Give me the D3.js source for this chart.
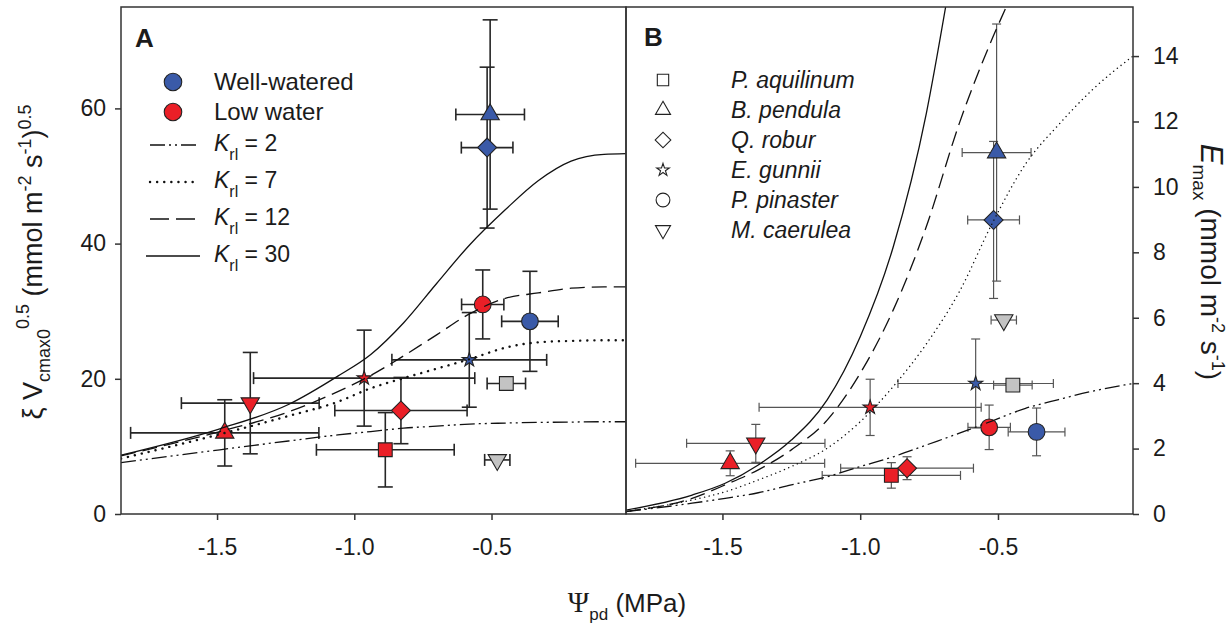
<!DOCTYPE html>
<html>
<head>
<meta charset="utf-8">
<title>Vcmax0 and Emax against predawn water potential</title>
<script src="https://d3js.org/d3.v7.min.js"></script>
<style>
  body { margin: 0; background: #ffffff; }
  #wrapper text { font-family: "Liberation Sans", Arial, Helvetica, sans-serif; fill: #1b1b1b; }
</style>
</head>
<body>
<div id="wrapper"></div>
<script>

// ---- values ----
const species = ["P. aquilinum", "B. pendula", "Q. robur", "E. gunnii", "P. pinaster", "M. caerulea"] ;
const treatments = ["Well-watered", "Low water"] ;
const krlValues = [2, 7, 12, 30] ;

// one entry per plotted point ; "none" = grey marker (single treatment)
const ptSpecies   = ["P. aquilinum", "P. aquilinum", "B. pendula", "B. pendula", "Q. robur", "Q. robur",
                     "E. gunnii", "E. gunnii", "P. pinaster", "P. pinaster", "M. caerulea", "M. caerulea"] ;
const ptTreatment = ["low", "none", "well", "low", "well", "low", "well", "low", "well", "low", "none", "low"] ;
const ptPsi       = [-0.887, -0.446, -0.505, -1.472, -0.516, -0.830, -0.581, -0.964, -0.360, -0.532, -0.479, -1.379] ;
const ptPsiErr    = [0.251, 0.070, 0.125, 0.343, 0.094, 0.241, 0.282, 0.403, 0.103, 0.077, 0.046, 0.251] ;
const ptV         = [9.5, 19.3, 59.1, 12.0, 54.2, 15.3, 22.8, 20.1, 28.5, 31.0, 8.0, 16.4] ;
const ptVErr      = [5.5, 0, 14.0, 4.9, 11.9, 4.9, 7.0, 7.1, 7.4, 5.1, 0, 7.5] ;
const ptE         = [1.18, 3.94, 11.05, 1.55, 8.99, 1.40, 3.99, 3.26, 2.51, 2.65, 5.93, 2.16] ;
const ptEErr      = [0.39, 0, 3.93, 0.38, 2.40, 0.35, 1.36, 0.86, 0.73, 0.68, 0, 0.58] ;

// model curves, panel A
const psiCurveA = [-1.85, -1.49, -1.24, -1.06, -0.94, -0.82, -0.70, -0.58, -0.45, -0.33, -0.21, -0.09, -0.01] ;
const krl2A     = [7.6, 9.5, 10.8, 11.7, 12.2, 12.7, 13.0, 13.3, 13.45, 13.55, 13.6, 13.65, 13.65] ;
const krl7A     = [8.2, 11.8, 14.5, 16.6, 18.6, 20.1, 21.5, 22.9, 24.6, 25.4, 25.6, 25.7, 25.7] ;
const krl12A    = [8.6, 12.2, 15.1, 18.1, 20.5, 23.4, 26.5, 29.6, 31.9, 32.7, 33.4, 33.6, 33.6] ;
const krl30A    = [8.7, 12.6, 16.2, 20.4, 23.6, 28.3, 34.1, 39.8, 45.0, 49.3, 52.2, 53.2, 53.3] ;

// model curves, panel B (steep ones stop where they leave the frame)
const psiCurveB = [-1.85, -1.61, -1.49, -1.37, -1.25, -1.12, -1.00, -0.88, -0.76, -0.64, -0.52, -0.40, -0.28, -0.16, -0.01] ;
const krl2B     = [0.07, 0.33, 0.48, 0.65, 0.89, 1.14, 1.45, 1.75, 2.11, 2.47, 2.85, 3.23, 3.5, 3.75, 3.99] ;
const krl7B     = [0.07, 0.43, 0.68, 1.04, 1.45, 2.01, 2.82, 3.9, 5.2, 6.8, 8.9, 10.7, 11.9, 12.95, 14.0] ;
const psiKrl12B = [-1.85, -1.61, -1.49, -1.37, -1.25, -1.12, -1.00, -0.88, -0.76, -0.64, -0.52, -0.47] ;
const krl12B    = [0.08, 0.48, 0.89, 1.35, 1.96, 2.87, 4.3, 6.24, 8.79, 11.95, 14.55, 15.5] ;
const psiKrl30B = [-1.85, -1.61, -1.49, -1.37, -1.25, -1.12, -1.00, -0.88, -0.76, -0.69] ;
const krl30B    = [0.12, 0.58, 0.94, 1.50, 2.26, 3.49, 5.42, 8.17, 12.25, 15.5] ;

// ---- layout ----
let dimensions = {
  width: 1232,
  height: 625,
  top: 7,
  bottom: 514,
  aLeft: 121,
  split: 626,
  bRight: 1133,
}

const fillOf = {well: "#3a5aa8", low: "#ea1f27", none: "#c3c3c3"} ;
const shapeOf = {"P. aquilinum": "square", "B. pendula": "triangle", "Q. robur": "diamond",
                 "E. gunnii": "star", "P. pinaster": "circle", "M. caerulea": "triangleDown"} ;
const shapeSize = {square: 190, triangle: 145, diamond: 180, star: 62, circle: 220, triangleDown: 145} ;
const krlDash = {2: "15,4,2,4,2,4", 7: "0.1,7", 12: "15,7", 30: null} ;

function symbolPath(shape, scale = 1) {
  const types = {square: d3.symbolSquare, diamond: d3.symbolSquare, triangle: d3.symbolTriangle,
                 triangleDown: d3.symbolTriangle, star: d3.symbolStar, circle: d3.symbolCircle} ;
  return d3.symbol().type(types[shape]).size(shapeSize[shape] * scale)() ;
}
function symbolRotate(shape) {
  if (shape == "diamond") return 45 ;
  if (shape == "triangleDown") return 180 ;
  return 0 ;
}

const svg = d3.select("#wrapper").append("svg")
    .attr("width", dimensions.width)
    .attr("height", dimensions.height)
;

const psiDomain = [-1.85, -0.01] ;
const xA = d3.scaleLinear().domain(psiDomain).range([dimensions.aLeft, dimensions.split]) ;
const xB = d3.scaleLinear().domain(psiDomain).range([dimensions.split, dimensions.bRight]) ;
const yA = d3.scaleLinear().domain([0, 75]).range([dimensions.bottom, dimensions.top]) ;
const yB = d3.scaleLinear().domain([0, 15.5]).range([dimensions.bottom, dimensions.top]) ;

const points = ptSpecies.map((s, i) => ({
  species: s, treat: ptTreatment[i], psi: ptPsi[i], psiErr: ptPsiErr[i],
  v: ptV[i], vErr: ptVErr[i], e: ptE[i], eErr: ptEErr[i],
})) ;

function drawPanel(name, xScale, yScale, yKey, errKey, curves, opts) {
  const g = svg.append("g").attr("class", "panel-" + name) ;
  const [x0, x1] = xScale.range() ;

  g.append("clipPath").attr("id", "clip-" + name)
    .append("rect")
      .attr("x", x0).attr("y", dimensions.top)
      .attr("width", x1 - x0).attr("height", dimensions.bottom - dimensions.top) ;

  // error bars
  const segs = [] ;
  points.forEach(d => {
    const cx = xScale(d.psi), cy = yScale(d[yKey]) ;
    if (d.psiErr > 0) {
      const xl = xScale(d.psi - d.psiErr), xr = xScale(d.psi + d.psiErr) ;
      segs.push([xl, cy, xr, cy], [xl, cy - opts.capH, xl, cy + opts.capH], [xr, cy - opts.capH, xr, cy + opts.capH]) ;
    }
    if (d[errKey] > 0) {
      const yt = yScale(d[yKey] + d[errKey]), yb = yScale(d[yKey] - d[errKey]) ;
      segs.push([cx, yt, cx, yb], [cx - opts.capV, yt, cx + opts.capV, yt], [cx - opts.capV, yb, cx + opts.capV, yb]) ;
    }
  }) ;
  g.append("g").selectAll("line")
    .data(segs)
    .join("line")
      .attr("x1", d => d[0]).attr("y1", d => d[1])
      .attr("x2", d => d[2]).attr("y2", d => d[3])
      .attr("stroke", opts.errColor)
      .attr("stroke-width", opts.errWidth) ;

  // markers
  g.append("g").selectAll("path")
    .data(points)
    .join("path")
      .attr("d", d => symbolPath(shapeOf[d.species]))
      .attr("transform", d => `translate(${xScale(d.psi)},${yScale(d[yKey])}) rotate(${symbolRotate(shapeOf[d.species])})`)
      .attr("fill", d => fillOf[d.treat])
      .attr("stroke", "#222")
      .attr("stroke-width", 1.1) ;

  // model curves
  const line = d3.line()
    .x(d => xScale(d[0]))
    .y(d => yScale(d[1]))
    .curve(d3.curveMonotoneX) ;
  g.append("g").attr("clip-path", `url(#clip-${name})`)
    .selectAll("path")
    .data(curves)
    .join("path")
      .attr("d", d => line(d3.zip(d.psi, d.val)))
      .attr("fill", "none")
      .attr("stroke", "#111")
      .attr("stroke-width", d => d.krl == 7 ? opts.dotWidth : 1.3)
      .attr("stroke-linecap", d => d.krl == 7 ? "round" : "butt")
      .attr("stroke-dasharray", d => d.krl == 7 ? opts.dotDash : krlDash[d.krl]) ;

  // frame
  g.append("rect")
    .attr("x", x0).attr("y", dimensions.top)
    .attr("width", x1 - x0).attr("height", dimensions.bottom - dimensions.top)
    .attr("fill", "none").attr("stroke", "#333").attr("stroke-width", 1.5) ;

  // x axis
  const xAxis = g.append("g")
    .attr("transform", `translate(0,${dimensions.bottom})`)
    .call(d3.axisBottom(xScale).tickValues([-1.5, -1.0, -0.5]).tickFormat(d => d.toFixed(1))
      .tickSize(6).tickPadding(19)) ;
  xAxis.select(".domain").remove() ;
  xAxis.selectAll("line").attr("stroke", "#333").attr("stroke-width", 1.5) ;
  xAxis.selectAll("text").attr("font-size", 23).attr("font-family", null) ;

  return g ;
}

drawPanel("A", xA, yA, "v", "vErr", [
  {krl: 2, psi: psiCurveA, val: krl2A},
  {krl: 7, psi: psiCurveA, val: krl7A},
  {krl: 12, psi: psiCurveA, val: krl12A},
  {krl: 30, psi: psiCurveA, val: krl30A},
], {capH: 6, capV: 7.5, errColor: "#262626", errWidth: 1.6, dotWidth: 2.4, dotDash: "0.1,7"}) ;

drawPanel("B", xB, yB, "e", "eErr", [
  {krl: 2, psi: psiCurveB, val: krl2B},
  {krl: 7, psi: psiCurveB, val: krl7B},
  {krl: 12, psi: psiKrl12B, val: krl12B},
  {krl: 30, psi: psiKrl30B, val: krl30B},
], {capH: 4.5, capV: 4.5, errColor: "#555", errWidth: 1.2, dotWidth: 1.4, dotDash: "0.1,4.6"}) ;

// y axes
const yAxisA = svg.append("g")
  .attr("transform", `translate(${dimensions.aLeft},0)`)
  .call(d3.axisLeft(yA).tickValues([0, 20, 40, 60]).tickSize(6).tickPadding(9)) ;
yAxisA.select(".domain").remove() ;
yAxisA.selectAll("line").attr("stroke", "#333").attr("stroke-width", 1.5) ;
yAxisA.selectAll("text").attr("font-size", 23).attr("font-family", null) ;

const yAxisB = svg.append("g")
  .attr("transform", `translate(${dimensions.bRight},0)`)
  .call(d3.axisRight(yB).tickValues(d3.range(0, 15, 2)).tickSize(6).tickPadding(14)) ;
yAxisB.select(".domain").remove() ;
yAxisB.selectAll("line").attr("stroke", "#333").attr("stroke-width", 1.5) ;
yAxisB.selectAll("text").attr("font-size", 23).attr("font-family", null) ;

// panel letters
svg.append("text").attr("x", 135).attr("y", 47).attr("font-size", 26).attr("font-weight", "bold").text("A") ;
svg.append("text").attr("x", 644).attr("y", 46).attr("font-size", 26).attr("font-weight", "bold").text("B") ;

// legend A
const legA = svg.append("g") ;
treatments.forEach((t, i) => {
  legA.append("path")
    .attr("d", symbolPath("circle", 1.1))
    .attr("transform", `translate(173,${82 + i * 30})`)
    .attr("fill", i == 0 ? fillOf.well : fillOf.low)
    .attr("stroke", "#222").attr("stroke-width", 1.1) ;
  legA.append("text").attr("x", 214).attr("y", 90 + i * 30).attr("font-size", 24).text(t) ;
}) ;
krlValues.forEach((k, i) => {
  const ly = 145 + i * 37 ;
  legA.append("line")
    .attr("x1", k == 30 ? 146 : 150).attr("x2", k == 30 ? 200 : 197)
    .attr("y1", ly).attr("y2", ly)
    .attr("stroke", "#111")
    .attr("stroke-width", k == 7 ? 2.4 : 1.3)
    .attr("stroke-linecap", k == 7 ? "round" : "butt")
    .attr("stroke-dasharray", k == 7 ? "0.1,7" : (k == 12 ? "19,7" : krlDash[k])) ;
  const t = legA.append("text").attr("x", 214).attr("y", ly + 6).attr("font-size", 23) ;
  t.append("tspan").attr("font-style", "italic").text("K") ;
  t.append("tspan").attr("font-size", 16).attr("dy", 9).text("rl") ;
  t.append("tspan").attr("dy", -9).text(" = " + k) ;
}) ;

// legend B
const legB = svg.append("g") ;
species.forEach((s, i) => {
  const shape = shapeOf[s] ;
  legB.append("path")
    .attr("d", symbolPath(shape, shape == "star" ? 0.8 : 0.68))
    .attr("transform", `translate(663,${80 + i * 30}) rotate(${symbolRotate(shape)})`)
    .attr("fill", "#fff").attr("stroke", "#222").attr("stroke-width", 1.1) ;
  legB.append("text").attr("x", 731).attr("y", 88 + i * 30)
    .attr("font-size", 23).attr("font-style", "italic").text(s) ;
}) ;

// axis titles
const yTitleA = svg.append("text")
  .attr("transform", "translate(42,262) rotate(-90)")
  .attr("text-anchor", "middle")
  .attr("font-size", 27) ;
yTitleA.append("tspan").text("\u03BE V") ;
yTitleA.append("tspan").attr("font-size", 18).attr("dy", 8).text("cmax0") ;
yTitleA.append("tspan").attr("font-size", 18).attr("dy", -21).text("0.5") ;
yTitleA.append("tspan").attr("dy", 13).text(" (mmol m") ;
yTitleA.append("tspan").attr("font-size", 18).attr("dy", -11).text("-2") ;
yTitleA.append("tspan").attr("dy", 11).text(" s") ;
yTitleA.append("tspan").attr("font-size", 18).attr("dy", -11).text("-1") ;
yTitleA.append("tspan").attr("dy", 11).text(")") ;
yTitleA.append("tspan").attr("font-size", 18).attr("dy", -11).text("0.5") ;

const yTitleB = svg.append("text")
  .attr("transform", "translate(1201,262) rotate(90)")
  .attr("text-anchor", "middle")
  .attr("font-size", 28) ;
yTitleB.append("tspan").attr("font-style", "italic").attr("font-size", 31).text("E") ;
yTitleB.append("tspan").attr("font-size", 19).attr("dy", 8).text("max") ;
yTitleB.append("tspan").attr("dy", -8).text(" (mmol m") ;
yTitleB.append("tspan").attr("font-size", 18).attr("dy", -11).text("-2") ;
yTitleB.append("tspan").attr("dy", 11).text(" s") ;
yTitleB.append("tspan").attr("font-size", 18).attr("dy", -11).text("-1") ;
yTitleB.append("tspan").attr("dy", 11).text(")") ;

const xTitle = svg.append("text")
  .attr("x", 627).attr("y", 612)
  .attr("text-anchor", "middle")
  .attr("font-size", 26) ;
xTitle.append("tspan").attr("font-family", "'Liberation Serif', 'DejaVu Serif', serif").attr("font-size", 29).text("\u03A8") ;
xTitle.append("tspan").attr("font-size", 17).attr("dy", 8).text("pd") ;
xTitle.append("tspan").attr("dy", -8).text(" (MPa)") ;

</script>
</body>
</html>
